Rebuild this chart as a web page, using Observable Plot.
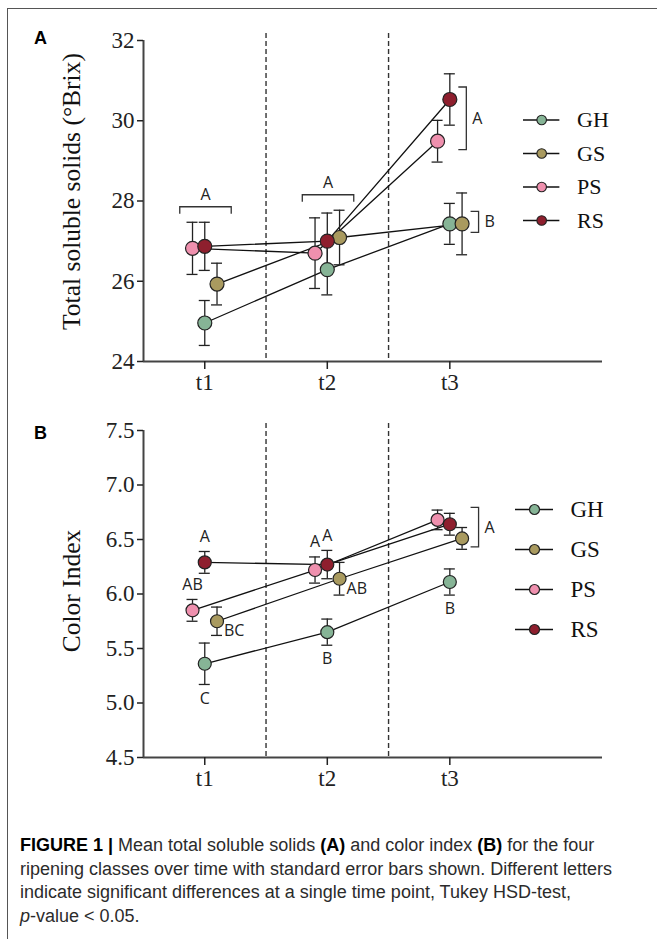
<!DOCTYPE html>
<html><head><meta charset="utf-8">
<script src="https://cdn.jsdelivr.net/npm/d3@7"></script>
<script src="https://cdn.jsdelivr.net/npm/@observablehq/plot@0.6"></script>
<style>
html,body{margin:0;padding:0;background:#fff;}
#page{position:relative;width:657px;height:939px;overflow:hidden;background:#fff;}
#frame{position:absolute;left:7px;top:8px;width:700px;height:1000px;border-top:1.5px solid #555;border-left:1.5px solid #555;}
.abs{position:absolute;}
.plabel{font-family:'Liberation Sans',Arial,sans-serif;font-weight:bold;font-size:18px;color:#000;line-height:20px;}
#caption{left:20px;top:834px;font-family:'Liberation Sans Narrow','Liberation Sans',Arial,sans-serif;font-size:18px;line-height:23.5px;color:#2b2b2b;white-space:nowrap;}
#caption b{color:#000;}
</style></head><body>
<div id="page">
<div id="frame"></div>
<div id="panelA" class="abs" style="left:0;top:0"></div>
<div id="legendA" class="abs" style="left:523px;top:109px"></div>
<div id="panelB" class="abs" style="left:0;top:390px"></div>
<div id="legendB" class="abs" style="left:515px;top:498px"></div>
<div class="abs plabel" style="left:34px;top:28px">A</div>
<div class="abs plabel" style="left:34px;top:423px">B</div>
<div id="caption" class="abs"><b>FIGURE 1 |</b> Mean total soluble solids <b>(A)</b> and color index <b>(B)</b> for the four<br>ripening classes over time with standard error bars shown. Different letters<br>indicate significant differences at a single time point, Tukey HSD-test,<br><i>p</i>-value &lt; 0.05.</div>
</div>
<script>
// ---- data ----
const times = [1, 2, 3];
const timeLabels = ["t1", "t2", "t3"];
const series = ["GH", "GS", "PS", "RS"];
const seriesColors = ["#86b496", "#a99a5f", "#ef90ae", "#8e1f2e"];

// Panel A: Total soluble solids (°Brix), rows follow `series`, columns follow `times`
const tssMean = [
  [24.96, 26.29, 27.43],
  [25.93, 27.09, 27.43],
  [26.82, 26.70, 29.49],
  [26.87, 27.00, 30.53]
];
const tssSE = [
  [0.56, 0.63, 0.51],
  [0.52, 0.68, 0.77],
  [0.65, 0.88, 0.52],
  [0.60, 0.70, 0.64]
];
const tssTicks = [24, 26, 28, 30, 32];
const tssGroupTime = [1, 2, 3, 3];
const tssGroupLetter = ["A", "A", "A", "B"];
const tssGroupMembers = [["GH", "GS", "PS", "RS"], ["GH", "GS", "PS", "RS"], ["PS", "RS"], ["GH", "GS"]];

// Panel B: Color Index
const ciMean = [
  [5.36, 5.65, 6.11],
  [5.75, 6.14, 6.51],
  [5.85, 6.22, 6.68],
  [6.29, 6.27, 6.64]
];
const ciSE = [
  [0.19, 0.12, 0.12],
  [0.13, 0.15, 0.10],
  [0.10, 0.12, 0.09],
  [0.10, 0.13, 0.10]
];
const ciTicks = [4.5, 5.0, 5.5, 6.0, 6.5, 7.0, 7.5];
const ciPointLetters = [
  ["C", "B", "B"],
  ["BC", "AB", null],
  ["AB", "A", null],
  ["A", "A", null]
];
const ciGroupTime = [3];
const ciGroupLetter = ["A"];
const ciGroupMembers = [["GS", "PS", "RS"]];

// ---- layout / style ----
const dodge = {GH: 0, GS: 0.1, PS: -0.1, RS: 0};
const serifFont = "'Liberation Serif', 'Times New Roman', serif";
const letterFont = "'Open Sans', 'Liberation Sans', sans-serif";
const letterSize = 16;

function buildRows(mean, se, letters) {
  return series.flatMap((s, i) => times.map((t, j) => ({
    series: s, time: t, x: t + dodge[s],
    mean: mean[i][j], lo: mean[i][j] - se[i][j], hi: mean[i][j] + se[i][j],
    letter: letters ? letters[i][j] : null
  })));
}
function buildGroups(gt, gl, gm) {
  return gt.map((t, k) => ({time: t, letter: gl[k], members: gm[k]}));
}

function bracketMark(rows, groups) {
  return (index, scales) => {
    const g = d3.create("svg:g");
    for (const grp of groups) {
      const m = rows.filter(d => d.time === grp.time && grp.members.includes(d.series));
      if (grp.members.length === series.length) {
        const yb = Math.min(...m.map(d => scales.y(d.hi))) - 15;
        const x1 = scales.x(grp.time - 0.2), x2 = scales.x(grp.time + 0.22);
        g.append("path").attr("d", `M${x1},${yb + 7}V${yb}H${x2}V${yb + 7}`)
          .attr("fill", "none").attr("stroke", "#333").attr("stroke-width", 1.3);
        g.append("text").attr("x", (x1 + x2) / 2).attr("y", yb - 12).attr("dy", "0.35em")
          .attr("text-anchor", "middle").attr("font-family", letterFont).attr("font-size", letterSize)
          .attr("fill", "#222").text(grp.letter);
      } else {
        const xb = Math.max(...m.map(d => scales.x(d.x))) + 17;
        const ys = m.map(d => scales.y(d.mean));
        const y1 = Math.min(...ys) - 12, y2 = Math.max(...ys) + 9;
        g.append("path").attr("d", `M${xb - 8},${y1}H${xb}V${y2}H${xb - 8}`)
          .attr("fill", "none").attr("stroke", "#333").attr("stroke-width", 1.3);
        g.append("text").attr("x", xb + 6).attr("y", (y1 + y2) / 2).attr("dy", "0.35em")
          .attr("text-anchor", "start").attr("font-family", letterFont).attr("font-size", letterSize)
          .attr("fill", "#222").text(grp.letter);
      }
    }
    return g.node();
  };
}

function panel({rows, groups, yDomain, yTicks, tickFmt, title, titleDy, height, marginTop, marginBottom, r}) {
  const xDomain = [0.5, 4.246];
  const width = 657, marginLeft = 143, marginRight = 55;
  const pxPerUnit = (width - marginLeft - marginRight) / (xDomain[1] - xDomain[0]);
  const capHalf = 5.5 / pxPerUnit;
  const mids = times.slice(1).map((t, i) => (t + times[i]) / 2);
  const letterRows = rows.filter(d => d.letter);
  const placeOf = d => d.series === "GH" ? "below" : d.series === "GS" ? "right" : "above";
  return Plot.plot({
    width, height, marginLeft, marginRight, marginTop, marginBottom,
    x: {domain: xDomain},
    y: {domain: yDomain},
    color: {domain: series, range: seriesColors},
    style: {fontFamily: serifFont, color: "#222", background: "none", overflow: "visible"},
    marks: [
      Plot.ruleX(mids, {stroke: "#333", strokeWidth: 1.4, strokeDasharray: "5,3", insetTop: -7}),
      Plot.ruleY([yDomain[0]], {stroke: "#444", strokeWidth: 2}),
      Plot.ruleX([xDomain[0]], {stroke: "#444", strokeWidth: 2}),
      Plot.axisY({ticks: yTicks, tickFormat: tickFmt, tickSize: 6, tickPadding: 3, fontSize: 23, label: null, strokeWidth: 1.5}),
      Plot.axisX({ticks: times, tickFormat: d => timeLabels[times.indexOf(d)], tickSize: 8, tickPadding: 4, fontSize: 23, label: null, strokeWidth: 1.5}),
      Plot.text([title], {frameAnchor: "left", textAnchor: "middle", rotate: -90, dx: -72, dy: titleDy, fontSize: 25.5, fill: "#111", fontFamily: serifFont}),
      Plot.line(rows, {x: "x", y: "mean", z: "series", stroke: "#111", strokeWidth: 1.3}),
      Plot.ruleX(rows, {x: "x", y1: "lo", y2: "hi", stroke: "#222", strokeWidth: 1.3}),
      Plot.ruleY(rows, {y: "hi", x1: d => d.x - capHalf, x2: d => d.x + capHalf, stroke: "#222", strokeWidth: 1.3}),
      Plot.ruleY(rows, {y: "lo", x1: d => d.x - capHalf, x2: d => d.x + capHalf, stroke: "#222", strokeWidth: 1.3}),
      Plot.dot(rows, {x: "x", y: "mean", r, fill: "series", stroke: "#222", strokeWidth: 1.2}),
      Plot.text(letterRows.filter(d => placeOf(d) === "above"), {x: "x", y: "hi", dy: -15, text: "letter", fontFamily: letterFont, fontSize: letterSize, fill: "#222"}),
      Plot.text(letterRows.filter(d => placeOf(d) === "below"), {x: "x", y: "lo", dy: 14, text: "letter", fontFamily: letterFont, fontSize: letterSize, fill: "#222"}),
      Plot.text(letterRows.filter(d => placeOf(d) === "right"), {x: "x", y: "mean", dx: 7, dy: 10, text: "letter", textAnchor: "start", fontFamily: letterFont, fontSize: letterSize, fill: "#222"}),
      bracketMark(rows, groups)
    ]
  });
}

function legend(spacing, textDx) {
  const h = spacing * 3 + 20;
  return Plot.plot({
    width: 140, height: h, marginTop: 10, marginBottom: 10, marginLeft: 0, marginRight: 102,
    x: {domain: [0, 1], axis: null},
    y: {type: "point", domain: series, padding: 0, axis: null},
    color: {domain: series, range: seriesColors},
    style: {fontFamily: serifFont, background: "none", overflow: "visible"},
    marks: [
      Plot.ruleY(series, {y: d => d, x1: 0, x2: 1, stroke: "#111", strokeWidth: 1.5}),
      Plot.dot(series, {x: 0.5, y: d => d, r: 5, fill: d => d, stroke: "#222", strokeWidth: 1.2}),
      Plot.text(series, {x: 1, y: d => d, text: d => d, dx: textDx, textAnchor: "start", fontSize: 23, fill: "#111", fontFamily: serifFont})
    ]
  });
}

const tssRows = buildRows(tssMean, tssSE, null);
const ciRows = buildRows(ciMean, ciSE, ciPointLetters);

document.getElementById("panelA").append(panel({
  rows: tssRows, groups: buildGroups(tssGroupTime, tssGroupLetter, tssGroupMembers),
  yDomain: [24, 32], yTicks: tssTicks, tickFmt: d => String(d),
  title: "Total soluble solids (°Brix)", titleDy: -9.5,
  height: 400, marginTop: 40, marginBottom: 39, r: 7
}));
document.getElementById("panelB").append(panel({
  rows: ciRows, groups: buildGroups(ciGroupTime, ciGroupLetter, ciGroupMembers),
  yDomain: [4.5, 7.5], yTicks: ciTicks, tickFmt: d => d.toFixed(1),
  title: "Color Index", titleDy: -3,
  height: 410, marginTop: 40, marginBottom: 43, r: 6.5
}));
document.getElementById("legendA").append(legend(35.7, 18));
document.getElementById("legendB").append(legend(40.7, 17));
</script>
</body></html>
